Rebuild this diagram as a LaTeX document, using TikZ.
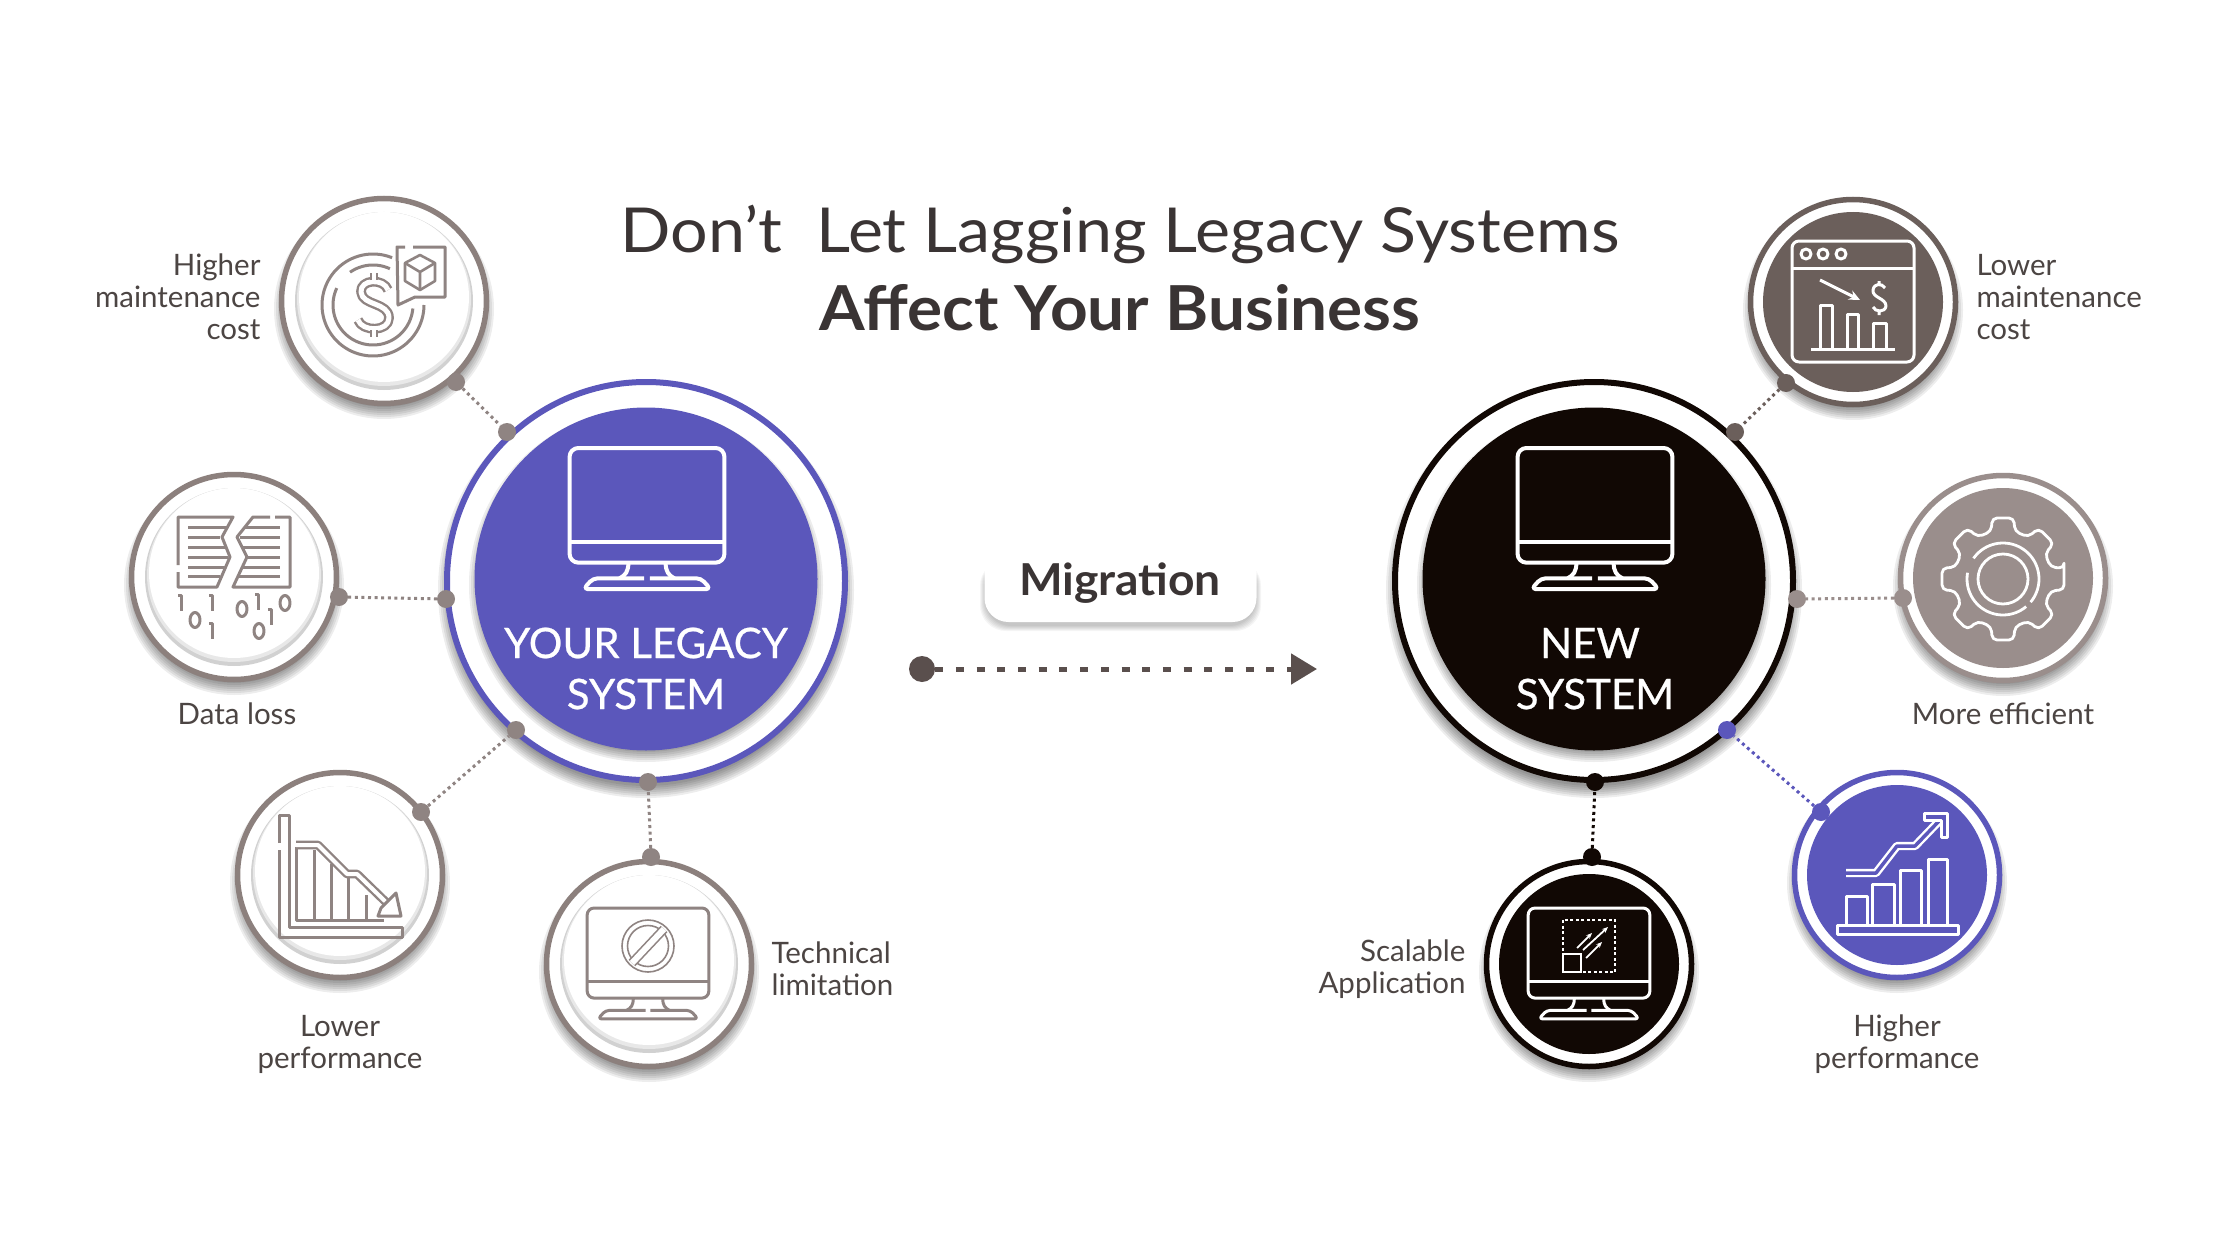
\documentclass[tikz,border=0pt]{standalone}
\usepackage{fontspec}
\setmainfont{Lato}
\usetikzlibrary{arrows.meta}
\definecolor{ringgray}{HTML}{8C807D}
\definecolor{icongray}{HTML}{8F8482}
\definecolor{darkgray}{HTML}{6B5F5B}
\definecolor{stone}{HTML}{9A8E8C}
\definecolor{violet}{HTML}{5B57BB}
\definecolor{nearblack}{HTML}{110804}
\definecolor{labelc}{HTML}{4C4543}
\definecolor{titlec}{HTML}{3A3434}
\definecolor{arrowc}{HTML}{5A4F4D}
\newcommand{\softshadow}[4][8]{%
  \foreach \i in {-6,-4,...,6}{\fill[black,opacity=0.07] (#2,#3+#1) circle[radius={(#4+\i)*1pt}];}}
\newcommand{\arcat}[5]{plot[domain=#4:#5,samples=50,smooth] ({#1+#3*cos(\x)},{#2+#3*sin(\x)})}
\newcommand{\whitesat}[3]{% name x y
  \softshadow{#2}{#3}{104}
  \node[satring=ringgray] (#1) at (#2,#3) {};
  \fill[black!18] (#2,#3) circle[radius=89pt];
  \fill[black!9] (#2,#3-2) circle[radius=87pt];
  \fill[white] (#2,#3-4) circle[radius=85pt];
}
\newcommand{\colorsat}[5]{% name x y ring fill
  \softshadow{#2}{#3}{104}
  \node[satring=#4] (#1) at (#2,#3) {};
  \fill[#5] (#2,#3) circle[radius=90pt];
}
\newcommand{\monitor}[5]{% cx ytop scale colour lw
  \pgfmathsetmacro{\rc}{9*#3}
  \begin{scope}[shift={(#1,#2)},scale=#3,draw=#4,line width=#5pt,line join=round]
    \draw[rounded corners=\rc pt] (-79,0) rectangle (79,117);
    \draw (-79,96) -- (79,96);
    \draw (-19,117) .. controls (-19,126) and (-22,130) .. (-28,133);
    \draw (19,117) .. controls (19,126) and (22,130) .. (28,133);
    \draw[rounded corners=\rc/2 pt] (-3,133) -- (-55,133) -- (-65,144) -- (65,144) -- (55,133) -- (3,133);
  \end{scope}}
\newcommand{\dzero}[2]{\draw (#1,#2) ellipse[x radius=5pt,y radius=7.5pt];}
\newcommand{\done}[2]{\draw (#1-3,#2-8) -- (#1,#2-8) -- (#1,#2+8);}
\tikzset{
  x=1pt,y=-1pt,
  satring/.style={circle,draw=#1,line width=5.5pt,fill=white,minimum size=205pt,inner sep=0pt},
  mainring/.style={circle,draw=#1,line width=6pt,fill=white,minimum size=398pt,inner sep=0pt},
  maindisc/.style={circle,fill=#1,minimum size=343pt,inner sep=0pt},
  pin/.style={circle,fill=#1,minimum size=18pt,inner sep=0pt},
  link/.style={draw=#1,line width=3pt,dash pattern=on 3pt off 3.6pt},
  lbl/.style={text=labelc,font=\fontsize{29.5}{32}\selectfont},
  head/.style={text=white,font=\fontsize{42}{51}\selectfont\addfontfeatures{FakeBold=0.6}},
  ttl/.style={text=titlec},
  icon/.style={draw=icongray,line width=3pt,line join=round},
  wicon/.style={draw=white,line width=3pt,line join=round},
}
\begin{document}
\begin{tikzpicture}
\useasboundingbox[fill=white] (0,0) rectangle (2240,1260);

% ---- title
\node[ttl,font=\fontsize{62}{62}\selectfont\addfontfeatures{FakeStretch=1.07}] (title1) at (1120,234) {Don’t\ \ Let Lagging Legacy Systems};
\node[ttl,font=\fontsize{62}{62}\selectfont\bfseries\addfontfeatures{FakeStretch=1.06}] (title2) at (1120,308) {Affect Your Business};

% ---- main circles
\softshadow[9]{646}{581}{202}
\node[mainring=violet] (legacy) at (646,581) {};
\softshadow[5]{646}{580}{171}
\node[maindisc=violet] (legacydisc) at (646,579) {};
\monitor{647}{448}{0.98}{white}{4}
\node[head] (legacy1) at (646,643) {YOUR LEGACY};
\node[head] (legacy2) at (646,694) {SYSTEM};

\softshadow[9]{1594}{581}{202}
\node[mainring=nearblack] (newsys) at (1594,581) {};
\softshadow[5]{1594}{580}{171}
\node[maindisc=nearblack] (newdisc) at (1594,579) {};
\monitor{1595}{448}{0.98}{white}{4}
\node[head] (new1) at (1590,643) {NEW};
\node[head] (new2) at (1595,694) {SYSTEM};

% ---- left satellites
\whitesat{satA}{384}{301}
\whitesat{satB}{234}{577}
\whitesat{satC}{340}{875}
\whitesat{satD}{649}{964}
% ---- right satellites
\colorsat{satE}{1853}{302}{darkgray}{darkgray}
\colorsat{satF}{2003}{578}{stone}{stone}
\colorsat{satG}{1897}{875}{violet}{violet}
\colorsat{satH}{1589}{964}{nearblack}{nearblack}

% ---- icon: coin
\begin{scope}[icon]
  \draw \arcat{373}{305}{51}{0}{292};
  \draw \arcat{373}{305}{40}{5}{205};
  \draw \arcat{373}{305}{40}{235}{295};
  \fill[white] (397,247) rectangle (445,297);
  \draw[fill=white] (405,247) -- (397,247) -- (398,305) -- (415,297) -- (445,297) -- (445,247) -- (413,247);
  \draw[line width=2.6pt] (420,255) -- (435,263) -- (435,281) -- (420,290) -- (405,281) -- (405,263) -- cycle;
  \draw[line width=2.6pt] (405,263) -- (420,272) -- (435,263) (420,272) -- (420,290);
  \draw[line width=2.4pt,double=white,double distance=5pt,line cap=butt]
    (388,290) .. controls (384,278) and (360,279) .. (361,292)
    .. controls (362,306) and (389,302) .. (389,318)
    .. controls (389,332) and (362,332) .. (358,320);
  \draw[line width=2.4pt,double=white,double distance=4pt] (374,280) -- (374,273);
  \draw[line width=2.4pt,double=white,double distance=4pt] (374,330) -- (374,337);
\end{scope}

% ---- icon: data loss
\begin{scope}[icon]
  \draw (178,565) -- (178,517) -- (233,517) -- (222,537) -- (230,557) -- (217,587) -- (178,587) -- (178,572);
  \draw (270,517) -- (253,517) -- (237,537) -- (247,557) -- (233,587) -- (290,587) -- (290,517) -- (275,517);
  \draw (188,527) -- (228,527) (188,537) -- (220,537) (188,547) -- (225,547)
        (188,557) -- (228,557) (188,567) -- (225,567) (188,576) -- (220,576);
  \draw (245,527) -- (280,527) (240,537) -- (280,537) (242,547) -- (280,547)
        (245,557) -- (280,557) (242,567) -- (280,567) (237,576) -- (280,576);
  \done{181}{603}\done{212}{603}\done{258}{602}\done{271}{617}\done{212}{631}
  \dzero{195}{620}\dzero{242}{609}\dzero{285}{603}\dzero{259}{631}
\end{scope}

% ---- icon: falling chart
\begin{scope}[icon]
  \draw (279,843) -- (279,815) -- (289,815) -- (289,927) -- (402,927) -- (402,937) -- (279,937) -- (279,850);
  \draw (296,847) -- (296,920) -- (384,920);
  \draw (314,850) -- (314,920) (331,864) -- (331,920) (348,878) -- (348,920) (366,895) -- (366,920);
  \draw[line width=2.4pt,double=white,double distance=4pt] (296,845) -- (318,845) -- (347,874) -- (357,874) -- (390,906);
  \draw[fill=white] (381,908) -- (396,893) -- (401,916) -- (378,916) -- cycle;
\end{scope}

% ---- icon: blocked monitor
\monitor{648}{908}{0.77}{icongray}{3}
\begin{scope}[draw=icongray,line width=1.6pt]
  \draw (648,946) circle[radius=26pt];
  \draw (648,946) circle[radius=20.5pt];
  \draw[double=white,double distance=6pt,line width=1.6pt] (632,963) -- (664,929);
\end{scope}

% ---- icon: cost window
\begin{scope}[wicon]
  \draw[rounded corners=7pt] (1792,241) rectangle (1914,362);
  \draw (1792,268) -- (1914,268);
  \draw (1806,254) circle[radius=5pt] (1823,254) circle[radius=5pt] (1841,254) circle[radius=5pt];
  \draw[-{Stealth[length=11pt,width=10pt]}] (1820,280) -- (1860,300);
  \draw (1885,288) .. controls (1882,283) and (1874,283) .. (1873,290)
    .. controls (1872,298) and (1886,298) .. (1886,306)
    .. controls (1885,313) and (1875,312) .. (1873,307)
    (1879,281) -- (1879,284) (1879,311) -- (1879,315);
  \draw (1820,349) -- (1820,305) -- (1832,305) -- (1832,349);
  \draw (1847,349) -- (1847,314) -- (1858,314) -- (1858,349);
  \draw (1873,349) -- (1873,323) -- (1886,323) -- (1886,349);
  \draw (1811,349) -- (1895,349);
\end{scope}

% ---- icon: gear
\begin{scope}[wicon,shift={(2003,579)}]
  \draw[rounded corners=5pt,line width=2.8pt]
    (-10:62)
    \foreach \a in {0,45,...,315}{
      -- (\a-10:62) -- (\a+10:62) -- (\a+14:49) -- (\a+31:49)
    } -- cycle;
  \draw[line width=2.8pt] (0,0) circle[radius=25pt];
  \draw[line width=2.8pt] plot[domain=215:400,samples=40,smooth] ({36*cos(\x)},{36*sin(\x)});
  \draw[line width=2.8pt] plot[domain=50:190,samples=30,smooth] ({36*cos(\x)},{36*sin(\x)});
\end{scope}

% ---- icon: rising chart
\begin{scope}[wicon]
  \draw (1837,925) rectangle (1958,934);
  \draw (1846,925) -- (1846,896) -- (1867,896) -- (1867,925);
  \draw (1872,925) -- (1872,884) -- (1894,884) -- (1894,925);
  \draw (1900,925) -- (1900,870) -- (1921,870) -- (1921,925);
  \draw (1928,925) -- (1928,859) -- (1947,859) -- (1947,925);
  \draw[line width=2.4pt,double=violet,double distance=3.5pt] (1846,873) -- (1876,873) -- (1897,846) -- (1915,846) -- (1940,820);
  \draw[fill=violet] (1924,813) -- (1947,813) -- (1947,837) -- (1941,837) -- (1941,820) -- (1924,820) -- cycle;
\end{scope}

% ---- icon: scalable monitor
\monitor{1589}{908}{0.77}{white}{3}
\begin{scope}[draw=white,line width=1.8pt]
  \draw[dash pattern=on 3pt off 2.5pt] (1563,920) rectangle (1615,972);
  \fill[nearblack] (1561,952) rectangle (1583,974);
  \draw (1563,954) rectangle (1581,972);
  \draw[-{Stealth[length=6pt,width=5pt]}] (1577,948) -- (1592,933);
  \draw[-{Stealth[length=6pt,width=5pt]}] (1583,950) -- (1608,927);
  \draw[-{Stealth[length=6pt,width=5pt]}] (1586,958) -- (1602,942);
\end{scope}

% ---- pins
\node[pin=icongray] (pA1) at (456,382) {};
\node[pin=icongray] (pA2) at (507,432) {};
\node[pin=icongray] (pB1) at (339,597) {};
\node[pin=icongray] (pB2) at (446,599) {};
\node[pin=icongray] (pC1) at (421,812) {};
\node[pin=icongray] (pC2) at (516,730) {};
\node[pin=icongray] (pD1) at (651,857) {};
\node[pin=icongray] (pD2) at (648,782) {};
\node[pin=darkgray] (pE1) at (1786,383) {};
\node[pin=darkgray] (pE2) at (1735,432) {};
\node[pin=stone] (pF1) at (1903,598) {};
\node[pin=stone] (pF2) at (1797,599) {};
\node[pin=violet] (pG1) at (1821,812) {};
\node[pin=violet] (pG2) at (1727,730) {};
\node[pin=nearblack] (pH1) at (1592,857) {};
\node[pin=nearblack] (pH2) at (1595,782) {};

% ---- dotted connectors
\draw[link=icongray] (pA1) -- (pA2);
\draw[link=icongray] (pB1) -- (pB2);
\draw[link=icongray] (pC1) -- (pC2);
\draw[link=icongray] (pD1) -- (pD2);
\draw[link=darkgray] (pE1) -- (pE2);
\draw[link=stone] (pF1) -- (pF2);
\draw[link=violet] (pG1) -- (pG2);
\draw[link=nearblack] (pH1) -- (pH2);

% ---- migration
\foreach \i in {0,1,...,5}{\fill[black,opacity=0.04,rounded corners=26pt] (985-\i,560) rectangle (1256+\i,626+\i);}
\node[fill=white,rounded corners=24pt,minimum width=272pt,minimum height=74pt,inner sep=0pt] (migbox) at (1120.5,585) {};
\node[text=titlec,font=\fontsize{44}{44}\selectfont\bfseries\addfontfeatures{FakeStretch=1.05}] (migtext) at (1120,583) {Migration};
\node[circle,fill=arrowc,minimum size=26pt,inner sep=0pt] (start) at (922,669) {};
\coordinate (tip) at (1317,669);
\draw[draw=arrowc,line width=5pt,dash pattern=on 8pt off 12.7pt,-{Triangle[length=26pt,width=30pt]}] (start) -- (tip);

% ---- labels
\node[lbl,align=right,anchor=east] (lA) at (264,297) {Higher\\maintenance\\cost};
\node[lbl] (lB) at (237,714) {Data loss};
\node[lbl,align=center] (lC) at (340,1044) {Lower\\performance};
\node[lbl,align=left,anchor=west] (lD) at (768,969) {Technical\\limitation};
\node[lbl,align=left,anchor=west] (lE) at (1973,297) {Lower\\maintenance\\cost};
\node[lbl] (lF) at (2003,714) {More efficient};
\node[lbl,align=center] (lG) at (1897,1044) {Higher\\performance};
\node[lbl,align=right,anchor=east] (lH) at (1469,969) {Scalable\\Application};
\end{tikzpicture}
\end{document}
